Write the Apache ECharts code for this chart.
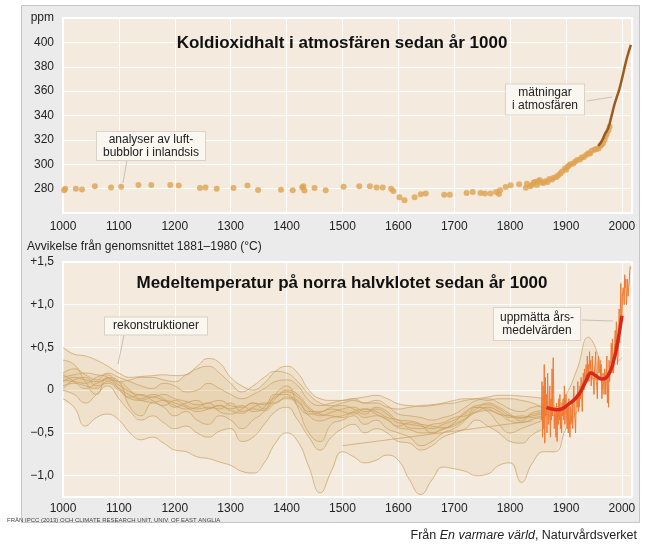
<!DOCTYPE html>
<html>
<head>
<meta charset="utf-8">
<title>Koldioxidhalt och medeltemperatur sedan år 1000</title>
<script src="https://cdn.jsdelivr.net/npm/echarts/dist/echarts.min.js"></script>
<style>
html, body { margin: 0; padding: 0; background: #fff; }
#main { width: 660px; height: 545px; }
</style>
</head>
<body>
<div id="main"></div>
<script>
var FONT = '"Liberation Sans", Arial, sans-serif';

// ---- Koldioxid: luftbubblor i inlandsis (år / ppm)
var co2IceYears = [1002,1004,1023,1034,1057,1086,1104,1135,1158,1192,1207,1245,1255,1275,1305,1330,1349,1390,1411,1428,
    1430,1432,1450,1470,1502,1530,1549,1561,1572,1587,1591,1602,1611,1629,1640,1649,1682,1692,1722,1733,
    1747,1755,1765,1775,1780,1782,1792,1801,1816,1828,1830,1836,1839,1842,1845,1848,1850,1853,1856,1860,
    1863,1867,1870,1875,1878,1883,1886,1890,1893,1898,1900,1903,1905,1908,1913,1916,1920,1925,1928,1932,
    1936,1940,1943,1946,1951,1954,1958,1961,1963,1966,1969,1971,1973,1976,1978];
var co2IcePpm = [278.6,280,280,279.3,282,281,281.5,283,283,283,282.5,280.5,281,280,280.5,282.5,278.8,279,278.6,281,
    282,278.5,280.5,278.6,281.5,282,282,281,281,280,278,273,270.5,273,275.3,276,275,275,276.4,277.3,
    276.4,276,276,277.3,275.5,278.6,281.4,282.7,283.6,280.8,284,282,283,285,285.5,283,286,287,285,284.7,
    286,285.5,288,287.4,289,289.6,291,292.4,294,296.5,295.5,298,299,300,300.6,302,303.4,304,305.5,306,
    307.5,309,308.8,311,312,312.5,313,315,316,317,320,323,325,328,331];

// ---- Koldioxid: mätningar i atmosfären
var co2AirYears = [1958,1965,1970,1975,1980,1986,1990,1995,2001,2005,2010,2016];
var co2AirPpm = [315,320,325,329,337,348,354,361,372,380,389,398];

// ---- Temperatur: rekonstruktioner (avvikelse °C), vart 20:e år 1000-1860
var recYears = [1000,1020,1040,1060,1080,1100,1120,1140,1160,1180,1200,1220,1240,1260,1280,1300,1320,1340,1360,1380,
    1400,1420,1440,1460,1480,1500,1520,1540,1560,1580,1600,1620,1640,1660,1680,1700,1720,1740,1760,1780,
    1800,1820,1840,1860];
var lateYears = [1880,1900,1920,1940,1960,1980,2000];

var recA = [0.10,0.15,0.12,0.10,0.14,0.06,-0.02,-0.06,-0.08,-0.05,-0.10,-0.13,-0.17,-0.15,-0.12,-0.18,-0.20,-0.15,-0.17,-0.08,
    -0.02,-0.08,-0.22,-0.30,-0.26,-0.22,-0.20,-0.25,-0.22,-0.28,-0.38,-0.40,-0.42,-0.45,-0.40,-0.35,-0.27,-0.18,-0.17,-0.22,
    -0.30,-0.33,-0.28,-0.26];
var recB = [0.05,0.08,0.05,0.02,0.10,0.02,-0.06,-0.12,-0.14,-0.12,-0.15,-0.20,-0.25,-0.22,-0.18,-0.24,-0.27,-0.22,-0.24,-0.15,
    -0.10,-0.14,-0.30,-0.36,-0.32,-0.30,-0.26,-0.32,-0.30,-0.34,-0.44,-0.46,-0.50,-0.50,-0.45,-0.42,-0.34,-0.26,-0.24,-0.28,
    -0.36,-0.38,-0.34,-0.32];
var recC = [0.50,0.42,0.40,0.35,0.28,0.20,0.15,0.16,0.17,0.18,0.17,0.18,0.28,0.37,0.32,0.15,0.05,0.00,0.08,0.22,
    0.28,0.20,0.00,-0.10,-0.12,-0.12,-0.10,-0.08,-0.06,-0.10,-0.16,-0.18,-0.19,-0.18,-0.16,-0.15,-0.12,-0.10,-0.08,-0.06,
    -0.06,-0.07,-0.08,-0.10];
var recD = [-0.10,-0.20,-0.42,-0.32,-0.28,-0.35,-0.50,-0.58,-0.55,-0.62,-0.70,-0.72,-0.78,-0.80,-0.84,-0.88,-0.95,-0.97,-0.85,-0.62,
    -0.50,-0.60,-0.90,-1.20,-0.95,-0.72,-0.78,-0.85,-0.82,-0.76,-0.82,-1.05,-1.22,-1.05,-0.90,-0.92,-0.95,-1.00,-0.98,-0.88,
    -0.85,-1.08,-0.85,-0.72];
var recDLate = [-0.72,-0.45,-0.25,null,null,null,null];
var recE = [0.00,-0.05,-0.15,-0.05,0.05,-0.10,-0.25,-0.35,-0.30,-0.38,-0.45,-0.42,-0.50,-0.55,-0.48,-0.45,-0.60,-0.55,-0.40,-0.25,
    -0.20,-0.35,-0.55,-0.70,-0.55,-0.45,-0.40,-0.50,-0.45,-0.50,-0.60,-0.62,-0.70,-0.65,-0.55,-0.50,-0.45,-0.35,-0.42,-0.50,
    -0.60,-0.62,-0.52,-0.45];
var recF = [0.20,0.25,0.18,0.12,0.20,0.15,0.10,0.05,0.02,0.08,0.05,-0.02,0.00,0.08,0.02,-0.05,-0.10,-0.05,0.02,0.10,
    0.12,0.05,-0.12,-0.18,-0.15,-0.12,-0.10,-0.15,-0.12,-0.18,-0.28,-0.30,-0.32,-0.35,-0.32,-0.28,-0.20,-0.12,-0.10,-0.15,
    -0.22,-0.25,-0.20,-0.18];
var recG = [0.15,0.18,0.20,0.18,0.15,0.02,-0.10,-0.12,-0.08,-0.12,-0.18,-0.22,-0.20,-0.15,-0.25,-0.28,-0.22,-0.15,-0.22,-0.10,
    0.00,-0.05,-0.20,-0.28,-0.30,-0.32,-0.25,-0.22,-0.28,-0.35,-0.42,-0.38,-0.40,-0.42,-0.44,-0.38,-0.25,-0.20,-0.22,-0.28,
    -0.30,-0.32,-0.30,-0.28];
var recGLate = [-0.30,-0.25,-0.05,0.15,0.12,0.25,0.38];
var recH = [0.35,0.30,0.10,-0.05,0.15,0.10,-0.20,-0.30,-0.15,-0.20,-0.30,-0.25,-0.35,-0.40,-0.30,-0.35,-0.45,-0.35,-0.25,-0.05,
    0.05,-0.20,-0.50,-0.60,-0.40,-0.35,-0.30,-0.40,-0.35,-0.45,-0.50,-0.55,-0.65,-0.60,-0.50,-0.45,-0.35,-0.20,-0.25,-0.40,
    -0.50,-0.45,-0.40,-0.35];
var recI = [0.12,0.10,0.08,0.15,0.18,0.10,0.12,0.15,0.15,0.12,0.10,0.18,0.25,0.28,0.20,0.08,-0.02,0.05,0.15,0.22,
    0.20,0.10,-0.05,-0.15,-0.18,-0.15,-0.12,-0.15,-0.15,-0.20,-0.22,-0.20,-0.18,-0.17,-0.15,-0.12,-0.10,-0.10,-0.12,-0.10,
    -0.10,-0.12,-0.15,-0.20];
var recILate = [-0.20,-0.05,0.25,0.62,0.35,null,null];
var recJ = [0.02,0.12,0.15,0.05,0.08,0.00,-0.08,-0.05,-0.12,-0.18,-0.12,-0.18,-0.22,-0.20,-0.22,-0.15,-0.25,-0.20,-0.15,-0.15,
    -0.08,-0.12,-0.25,-0.25,-0.22,-0.25,-0.28,-0.22,-0.25,-0.32,-0.35,-0.44,-0.45,-0.40,-0.38,-0.32,-0.30,-0.25,-0.20,-0.25,
    -0.32,-0.30,-0.32,-0.30];
var recK = [0.18,0.10,0.02,0.08,0.12,0.10,0.00,-0.10,-0.05,-0.10,-0.20,-0.15,-0.12,-0.22,-0.18,-0.22,-0.18,-0.25,-0.20,-0.05,
    -0.05,-0.18,-0.28,-0.26,-0.20,-0.18,-0.22,-0.28,-0.20,-0.25,-0.35,-0.36,-0.40,-0.50,-0.46,-0.40,-0.33,-0.22,-0.15,-0.20,
    -0.28,-0.36,-0.26,-0.24];
// en nästan rak rekonstruktion 1500-1840
var recStraightYears = [1500,1840];
var recStraight = [-0.65,-0.36];

// ---- Temperatur: uppmätta årsmedelvärden 1856-2015
var tempStartYear = 1856;
var tempAnnual = [-0.35,0.10,-0.55,0.05,
    -0.45,0.30,-0.62,0.15,-0.30,-0.05,-0.50,0.20,-0.15,-0.40,
    -0.25,0.05,-0.55,-0.10,-0.35,0.25,-0.30,0.38,-0.05,-0.45,
    -0.20,-0.30,-0.55,-0.15,-0.60,-0.25,-0.40,-0.10,-0.35,-0.05,
    -0.45,-0.20,-0.50,-0.15,-0.30,-0.10,-0.35,0.05,-0.40,-0.15,
    -0.05,-0.30,-0.45,-0.20,-0.50,-0.10,-0.35,-0.55,-0.20,-0.40,
    -0.30,-0.15,-0.45,-0.10,0.05,-0.25,-0.35,-0.50,-0.15,-0.05,
    -0.20,0.10,-0.25,-0.05,-0.20,0.05,-0.10,0.15,-0.05,-0.25,
    0.05,0.20,0.00,0.25,0.05,0.15,0.30,0.10,0.40,0.20,
    0.30,0.10,0.45,0.25,0.35,0.05,0.20,0.40,0.15,0.10,
    -0.05,0.25,0.30,0.45,0.10,0.05,-0.10,0.30,0.40,0.20,
    0.25,0.35,0.15,0.30,-0.10,0.00,0.20,0.15,-0.05,0.25,
    0.20,-0.05,0.10,0.40,-0.15,0.15,-0.20,0.35,0.10,0.30,
    0.35,0.55,0.20,0.60,0.25,0.20,0.40,0.55,0.70,0.45,
    0.80,0.65,0.30,0.40,0.60,0.95,0.55,0.85,1.25,0.90,
    0.85,1.10,1.20,1.15,1.00,1.35,1.20,1.30,1.00,1.15,
    1.30,1.10,1.20,1.25,1.40,1.45];
// utjämnad kurva
var tempSmoothYears = [1865,1875,1885,1895,1905,1915,1925,1935,1945,1955,1965,1975,1985,1992,2000];
var tempSmooth = [-0.20,-0.22,-0.23,-0.21,-0.16,-0.11,-0.03,0.10,0.20,0.16,0.13,0.17,0.34,0.55,0.87];

// ------------------------------------------------------------
var PLOT_BG = '#f4eadd';
var REC_LINE = 'rgba(200,160,98,0.7)';
var BAND_FILL = 'rgba(218,180,118,0.16)';

var allYears = recYears.concat(lateYears);
var none = lateYears.map(function () { return null; });
var recons = [
    recA.concat(none), recB.concat(none), recC.concat(none), recD.concat(recDLate),
    recE.concat(none), recF.concat(none), recG.concat(recGLate), recH.concat(none),
    recI.concat(recILate), recJ.concat(none), recK.concat(none)
];

function pairs(xs, ys) {
    return xs.map(function (x, i) { return [x, ys[i]]; });
}

// band k: mellan k:te lägsta och k:te högsta rekonstruktionen
function band(k) {
    var out = [];
    allYears.forEach(function (yr, i) {
        var v = recons.map(function (r) { return r[i]; })
            .filter(function (x) { return x != null; })
            .sort(function (a, b) { return a - b; });
        if (v.length >= 2 * (k + 1)) out.push([yr, v[k], v[v.length - 1 - k]]);
    });
    return out;
}

function bandSeries(b) {
    return {
        type: 'custom',
        xAxisIndex: 1, yAxisIndex: 1,
        silent: true,
        clip: true,
        z: 1,
        data: b,
        encode: { x: 0, y: [1, 2] },
        renderItem: function (params, api) {
            if (params.dataIndex !== 0) return null;
            var pts = [];
            for (var i = 0; i < b.length; i++) pts.push(api.coord([b[i][0], b[i][2]]));
            for (var j = b.length - 1; j >= 0; j--) pts.push(api.coord([b[j][0], b[j][1]]));
            return { type: 'polygon', shape: { points: pts, smooth: 0.35 }, style: { fill: BAND_FILL } };
        }
    };
}

function yearLabel(v) { return v % 100 === 0 ? String(v) : ''; }
function ppmLabel(v) {
    if (v === 420) return 'ppm';
    if (v === 260) return '';
    return String(v);
}
function tempLabel(v) {
    var r = Math.round(v * 100) / 100;
    if (Math.abs(r * 2 - Math.round(r * 2)) > 1e-6) return '';
    if (r === 0) return '0';
    return (r > 0 ? '+' : '\u2212') + Math.abs(r).toFixed(1).replace('.', ',');
}

var axisLabelStyle = { color: '#222', fontSize: 12, fontFamily: FONT };

var series = [];
[0, 1, 2, 3, 4].forEach(function (k) { series.push(bandSeries(band(k))); });
recons.forEach(function (r) {
    series.push({
        type: 'line', xAxisIndex: 1, yAxisIndex: 1,
        data: pairs(allYears, r),
        smooth: true, showSymbol: false, silent: true, z: 2,
        lineStyle: { color: REC_LINE, width: 1 }
    });
});
series.push({
    type: 'line', xAxisIndex: 1, yAxisIndex: 1,
    data: pairs(recStraightYears, recStraight),
    showSymbol: false, silent: true, z: 2,
    lineStyle: { color: REC_LINE, width: 1 }
});
series.push({
    type: 'line', xAxisIndex: 1, yAxisIndex: 1,
    data: tempAnnual.map(function (v, i) { return [tempStartYear + i, v]; }),
    showSymbol: false, silent: true, z: 3,
    lineStyle: { color: '#ef7a33', width: 1 }
});
series.push({
    type: 'line', xAxisIndex: 1, yAxisIndex: 1,
    data: pairs(tempSmoothYears, tempSmooth),
    smooth: true, showSymbol: false, silent: true, z: 4,
    lineStyle: { color: '#d8281a', width: 3.5 }
});
// koldioxid
series.push({
    type: 'scatter', xAxisIndex: 0, yAxisIndex: 0,
    data: pairs(co2IceYears, co2IcePpm),
    symbolSize: 6, silent: true, z: 2,
    itemStyle: { color: '#dea353' }
});
series.push({
    type: 'line', xAxisIndex: 0, yAxisIndex: 0,
    data: pairs(co2AirYears, co2AirPpm),
    smooth: true, showSymbol: false, silent: true, z: 3,
    lineStyle: { color: '#9b5a1f', width: 2.5 }
});

function box(text, x, y, pad) {
    return {
        type: 'text', x: x, y: y, z: 100,
        style: {
            text: text, font: '12px ' + FONT, fill: '#222',
            align: 'center', verticalAlign: 'middle', lineHeight: 13,
            backgroundColor: '#faf6f0', borderColor: '#d9d2c8', borderWidth: 1,
            padding: pad
        }
    };
}
function pointer(x1, y1, x2, y2) {
    return {
        type: 'line', z: 99, silent: true,
        shape: { x1: x1, y1: y1, x2: x2, y2: y2 },
        style: { stroke: '#c9c1b5', lineWidth: 1 }
    };
}

var myChart = echarts.init(document.getElementById('main'), null, { renderer: 'canvas' });
myChart.setOption({
    animation: false,
    backgroundColor: '#ffffff',
    grid: [
        { left: 63, right: 28, top: 18, height: 195, show: true, backgroundColor: PLOT_BG, borderColor: '#ffffff', borderWidth: 2 },
        { left: 63, right: 28, top: 262, height: 235, show: true, backgroundColor: PLOT_BG, borderColor: '#ffffff', borderWidth: 2 }
    ],
    xAxis: [
        {
            gridIndex: 0, type: 'value', min: 1000, max: 2018, interval: 100,
            axisLine: { show: false }, axisTick: { show: false },
            splitLine: { show: true, lineStyle: { color: '#ffffff', width: 1 } },
            axisLabel: Object.assign({ margin: 8, formatter: yearLabel }, axisLabelStyle)
        },
        {
            gridIndex: 1, type: 'value', min: 1000, max: 2018, interval: 100,
            axisLine: { show: false }, axisTick: { show: false },
            splitLine: { show: true, lineStyle: { color: '#ffffff', width: 1 } },
            axisLabel: Object.assign({ margin: 6, formatter: yearLabel }, axisLabelStyle)
        }
    ],
    yAxis: [
        {
            gridIndex: 0, type: 'value', min: 260, max: 420, interval: 20,
            axisLine: { show: false }, axisTick: { show: false },
            splitLine: { show: true, lineStyle: { color: '#ffffff', width: 1 } },
            axisLabel: Object.assign({ margin: 9, formatter: ppmLabel }, axisLabelStyle)
        },
        {
            gridIndex: 1, type: 'value', min: -1.25, max: 1.5, interval: 0.25,
            axisLine: { show: false }, axisTick: { show: false },
            splitLine: { show: true, lineStyle: { color: ['rgba(255,255,255,0)', '#ffffff'], width: 1 } },
            axisLabel: Object.assign({ margin: 9, formatter: tempLabel }, axisLabelStyle)
        }
    ],
    graphic: [
        {
            type: 'rect', z: -100, silent: true,
            shape: { x: 21.5, y: 5.5, width: 618, height: 517 },
            style: { fill: '#ebebeb', stroke: '#c6c6c6', lineWidth: 1 }
        },
        {
            type: 'text', x: 342, y: 43, z: 50,
            style: { text: 'Koldioxidhalt i atmosfären sedan år 1000', font: 'bold 17px ' + FONT, fill: '#111', align: 'center', verticalAlign: 'middle' }
        },
        {
            type: 'text', x: 342, y: 283, z: 50,
            style: { text: 'Medeltemperatur på norra halvklotet sedan år 1000', font: 'bold 17px ' + FONT, fill: '#111', align: 'center', verticalAlign: 'middle' }
        },
        {
            type: 'text', x: 27, y: 247, z: 50,
            style: { text: 'Avvikelse från genomsnittet 1881\u20131980 (°C)', font: '12px ' + FONT, fill: '#222', align: 'left', verticalAlign: 'middle' }
        },
        {
            type: 'text', x: 7, y: 520, z: 50,
            style: { text: 'FRÅN IPCC (2013) OCH CLIMATE RESEARCH UNIT, UNIV. OF EAST ANGLIA', font: '6px "Liberation Sans Narrow", ' + FONT, fill: '#444', align: 'left', verticalAlign: 'middle' }
        },
        {
            type: 'text', x: 637, y: 536, z: 50,
            style: {
                text: '{n|Från }{i|En varmare värld}{n|, Naturvårdsverket}',
                align: 'right', verticalAlign: 'middle',
                rich: {
                    n: { font: '12.5px ' + FONT, fill: '#222' },
                    i: { font: 'italic 12.5px ' + FONT, fill: '#222' }
                }
            }
        },
        pointer(127, 160, 123, 183),
        box('analyser av luft-\nbubblor i inlandsis', 151, 146, [1, 6]),
        pointer(587, 101, 612, 97),
        box('mätningar\ni atmosfären', 545, 99.5, [2, 6]),
        pointer(124, 335, 118, 364),
        box('rekonstruktioner', 156, 326, [2, 8]),
        pointer(582, 320, 613, 321),
        box('uppmätta års-\nmedelvärden', 537, 324, [3, 6])
    ],
    series: series
});
</script>
</body>
</html>
